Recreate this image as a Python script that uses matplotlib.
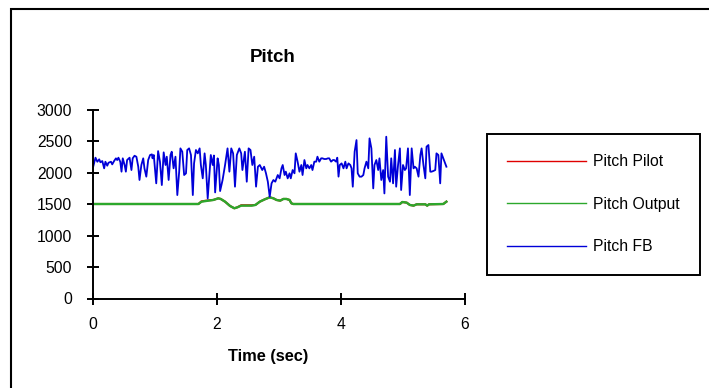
import matplotlib
matplotlib.use("Agg")
import matplotlib.pyplot as plt
from matplotlib.patches import Rectangle

plt.rcParams['font.family'] = ['Liberation Sans', 'DejaVu Sans']

# Pitch FB (blue) - vertices
fb_time = [0.00, 0.04, 0.07, 0.10, 0.12, 0.15, 0.18, 0.20, 0.23, 0.25, 0.29, 0.31, 0.34, 0.37, 0.39, 0.41,
           0.44, 0.46, 0.48, 0.51, 0.53, 0.55, 0.59, 0.62, 0.64, 0.67, 0.70, 0.73, 0.75, 0.78, 0.81, 0.83,
           0.86, 0.89, 0.92, 0.95,
           0.96, 0.98, 1.02, 1.05, 1.08, 1.11, 1.14, 1.17, 1.19, 1.22, 1.25, 1.27, 1.30, 1.33, 1.36, 1.39,
           1.41, 1.44, 1.47, 1.50, 1.52, 1.55, 1.58, 1.61, 1.63, 1.66, 1.69, 1.72, 1.74, 1.77, 1.80, 1.82,
           1.85, 1.88, 1.90, 1.93, 1.95,
           1.97, 2.01, 2.03, 2.05, 2.09, 2.13, 2.17, 2.20, 2.23, 2.26, 2.29, 2.32, 2.36, 2.39, 2.41, 2.45,
           2.48, 2.51, 2.54, 2.57, 2.60, 2.63, 2.66, 2.69, 2.73, 2.76, 2.79, 2.82, 2.85, 2.88, 2.91, 2.94,
           2.97,
           2.98, 3.01, 3.04, 3.06, 3.09, 3.11, 3.14, 3.17, 3.19, 3.22, 3.25, 3.27, 3.30, 3.33, 3.36, 3.38,
           3.41, 3.44, 3.46, 3.49, 3.52, 3.54, 3.57, 3.60, 3.62, 3.65, 3.68, 3.70, 3.73, 3.76, 3.79, 3.81,
           3.84, 3.87, 3.89, 3.92, 3.94, 3.96,
           3.98, 4.01, 4.04, 4.07, 4.09, 4.12, 4.15, 4.17, 4.19, 4.22, 4.25, 4.27, 4.30, 4.33, 4.36, 4.38,
           4.41, 4.44, 4.46, 4.49, 4.52, 4.54, 4.57, 4.60, 4.62, 4.65, 4.68, 4.70, 4.73, 4.76, 4.79, 4.81,
           4.84, 4.87, 4.89, 4.92, 4.95,
           4.97, 5.00, 5.03, 5.05, 5.08, 5.11, 5.14, 5.17, 5.19, 5.22, 5.25, 5.28, 5.30, 5.33, 5.36, 5.38,
           5.41, 5.44, 5.46, 5.49, 5.52, 5.54, 5.57, 5.60, 5.62, 5.65, 5.68, 5.70]
fb_value = [2080, 2235, 2171, 2209, 2162, 2182, 2066, 2171, 2108, 2155, 2171, 2129, 2182, 2225, 2198, 2235,
            2171, 2013, 2225, 2119, 2013, 2198, 2235, 2039, 2225, 2266, 2250, 2092, 1881, 2119, 2225, 2066,
            1934, 2198, 2277, 2288,
            2225, 2278, 1828, 2340, 2172, 1801, 2320, 2119, 2251, 1881, 2278, 2330, 2066, 2251, 1642, 2013,
            2383, 2330, 1960, 1987, 2357, 2383, 2278, 1642, 2145, 2357, 2304, 2383, 2119, 1907, 2304, 2119,
            1589, 2013, 2278, 2119, 2270,
            1684, 2225, 2119, 1705, 1881, 2119, 2383, 2013, 2383, 2304, 1775, 2278, 2383, 2304, 2039, 2330,
            1854, 2383, 2357, 2119, 2251, 1775, 2092, 2119, 2039, 2092, 1987, 1854, 1616, 1828, 1881, 1854,
            1934,
            1960, 1907, 2066, 2119, 1960, 2013, 1907, 1987, 1907, 2039, 1987, 2304, 2172, 2013, 2119, 1960,
            2198, 2066, 2119, 2066, 2119, 2039, 2172, 2172, 2251, 2172, 2225, 2225, 2214, 2214, 2225, 2225,
            2172, 2198, 2198, 2172, 2235, 1934,
            2119, 2145, 2066, 2172, 2066, 2145, 2119, 2066, 1775, 2330, 2515, 1987, 1934, 1934, 1960, 2066,
            2172, 2066, 2542, 2383, 1748, 2119, 2198, 2039, 2225, 1881, 2039, 1668, 2568, 1934, 1854, 2225,
            1828, 2357, 1775, 2119, 2383,
            1722, 2119, 2039, 2066, 2383, 1642, 2383, 2066, 2092, 2066, 1934, 2278, 2383, 2119, 1907, 2410,
            2436, 2013, 2013, 2024, 2039, 2304, 2278, 1828, 2304, 2225, 2145, 2092]

# Pitch Output (green) and Pitch Pilot (red)
out_time = [0.00, 1.70, 1.75, 1.86, 1.94, 2.02, 2.06, 2.13, 2.21, 2.28, 2.33, 2.39, 2.56, 2.62, 2.69, 2.77,
            2.85, 2.91, 2.96, 3.02, 3.07, 3.12, 3.17, 3.20, 3.23, 4.95, 4.99, 5.06, 5.11, 5.17, 5.22, 5.36,
            5.39, 5.42, 5.65, 5.70]
out_value = [1500, 1500, 1537, 1553, 1564, 1590, 1580, 1537, 1469, 1432, 1448, 1474, 1474, 1485, 1537, 1574,
             1606, 1590, 1564, 1553, 1580, 1580, 1564, 1511, 1500, 1500, 1532, 1521, 1485, 1474, 1495, 1495,
             1474, 1495, 1500, 1537]
pilot_value = [1500, 1500, 1542, 1558, 1564, 1590, 1580, 1537, 1469, 1432, 1448, 1480, 1480, 1485, 1537, 1574,
               1606, 1590, 1564, 1553, 1580, 1580, 1564, 1511, 1500, 1500, 1532, 1521, 1485, 1474, 1495, 1495,
               1474, 1495, 1500, 1537]

x_ticks = [0, 2, 4, 6]
y_ticks = [0, 500, 1000, 1500, 2000, 2500, 3000]

fig = plt.figure(figsize=(7.09, 3.88), dpi=100)
ax = fig.add_axes([93 / 709, 1 - 298.5 / 388, 372 / 709, 189 / 388])

l1, = ax.plot(out_time, pilot_value, color='#e00000', lw=1.5, label='Pitch Pilot')
l2, = ax.plot(out_time, out_value, color='#2ca82c', lw=1.7, label='Pitch Output')
l3, = ax.plot(fb_time, fb_value, color='#0000d8', lw=1.3, label='Pitch FB')

ax.set_xlim(0, 6)
ax.set_ylim(0, 3000)
ax.set_xticks(x_ticks)
ax.set_yticks(y_ticks)
for s in ['top', 'right']:
    ax.spines[s].set_visible(False)
for s in ['left', 'bottom']:
    ax.spines[s].set_linewidth(1.4)
    ax.spines[s].set_color('black')
ax.tick_params(axis='both', direction='inout', length=8, width=1.4, labelsize=11.3)
ax.tick_params(axis='y', pad=11)
ax.tick_params(axis='x', pad=9)

fig.text(273 / 709, 1 - 57 / 388, 'Pitch', ha='center', va='center', fontsize=13.5, fontweight='bold')
fig.text(268 / 709, 1 - 357 / 388, 'Time (sec)', ha='center', va='center', fontsize=11.8, fontweight='bold')

leg = fig.legend(handles=[l1, l2, l3], loc='upper left',
                 bbox_to_anchor=(487 / 709, 1 - 134 / 388), bbox_transform=fig.transFigure,
                 borderaxespad=0, fontsize=11.3, handlelength=5.0, handletextpad=0.45,
                 labelspacing=1.75, borderpad=1.3, fancybox=False, framealpha=1)
leg.get_frame().set_edgecolor('black')
leg.get_frame().set_linewidth(1.4)
for h in leg.get_lines():
    h.set_linewidth(1.0)

# outer chart border (cut off at right and bottom)
fig.patches.append(Rectangle((10.5 / 709, -0.2), 1.2, 1.2 - 8.5 / 388,
                             transform=fig.transFigure, fill=False, ec='black', lw=1.5))

fig.savefig('out.png', dpi=100)
